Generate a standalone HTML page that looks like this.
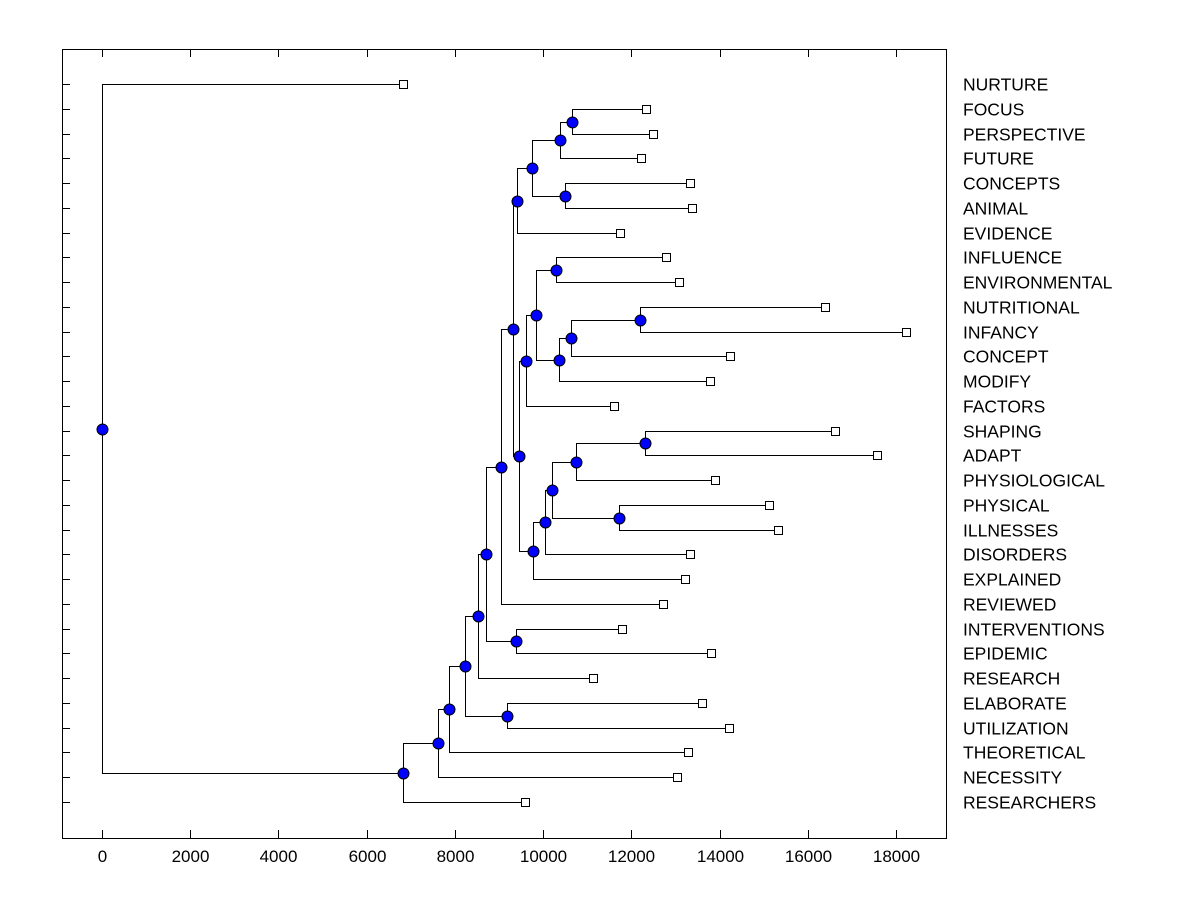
<!DOCTYPE html>
<html><head><meta charset="utf-8"><style>
body{margin:0;background:#fff}
svg{display:block;font-family:"Liberation Sans",Arial,sans-serif}
</style></head><body>
<svg id="chart" width="1200" height="900" viewBox="0 0 1200 900"></svg>
<script>
const leafNames=["NURTURE","FOCUS","PERSPECTIVE","FUTURE","CONCEPTS","ANIMAL","EVIDENCE","INFLUENCE","ENVIRONMENTAL","NUTRITIONAL","INFANCY","CONCEPT","MODIFY","FACTORS","SHAPING","ADAPT","PHYSIOLOGICAL","PHYSICAL","ILLNESSES","DISORDERS","EXPLAINED","REVIEWED","INTERVENTIONS","EPIDEMIC","RESEARCH","ELABORATE","UTILIZATION","THEORETICAL","NECESSITY","RESEARCHERS"];
const leafValues=[6825,12336,12494,12222,13333,13379,11746,12789,13084,16395,18231,14240,13787,11610,16621,17574,13900,15125,15329,13333,13220,12721,11791,13810,11134,13605,14218,13288,13039,9592];
// merges: [childA, childB, height]; child index <30 = leaf, >=30 = merge (index-30)
const mergeA=[1,30,4,31,33,7,9,36,37,35,39,14,41,17,42,44,45,40,34,48,22,49,51,25,52,54,55,56,0];
const mergeB=[2,3,5,32,6,8,10,11,12,38,13,15,16,18,43,19,20,46,47,21,23,50,24,26,53,27,28,29,57];
const mergeH=[10658,10385,10499,9751,9410,10295,12200,10635,10363,9841,9615,12313,10748,11723,10204,10045,9773,9456,9320,9048,9388,8707,8526,9184,8231,7868,7619,6825,0];
const xTicks=[0,2000,4000,6000,8000,10000,12000,14000,16000,18000];

const svg=document.getElementById('chart');
const NS='http://www.w3.org/2000/svg';
const L=62,R=946,T=49,B=838;
const xs=v=>Math.round(102+v*(896-102)/18000)+0.5;
const ys=i=>Math.round(84+i*(802-84)/29)+0.5;
function mk(tag,at){const e=document.createElementNS(NS,tag);for(const k in at)e.setAttribute(k,at[k]);svg.appendChild(e);return e;}

const frame=mk('rect',{x:L+0.5,y:T+0.5,width:R-L,height:B-T,fill:'none',stroke:'#000','stroke-width':1,'shape-rendering':'crispEdges'});



xTicks.forEach(t=>{
  const x=xs(t);
  const a=mk('line',{x1:x,y1:B,x2:x,y2:B-8,stroke:'#000','shape-rendering':'crispEdges'});
  
  
  const b=mk('line',{x1:x,y1:T,x2:x,y2:T+8,stroke:'#000','shape-rendering':'crispEdges'});
  
  
  const tx=mk('text',{x:x,y:B+24,'text-anchor':'middle','font-size':17});
  tx.textContent=t;
  
  
});

const pos=[];
leafNames.forEach((n,i)=>{pos[i]={x:xs(leafValues[i]),y:ys(i)};});
mergeA.forEach((a,k)=>{
  const pa=pos[a],pb=pos[mergeB[k]];
  pos[30+k]={x:xs(mergeH[k]),y:Math.round((pa.y+pb.y)/2-0.5)+0.5};
});
leafNames.forEach((n,i)=>{
  const t=mk('line',{x1:L,y1:ys(i),x2:L+8,y2:ys(i),stroke:'#000','shape-rendering':'crispEdges'});
  
  
});
mergeA.forEach((a,k)=>{
  const p=pos[30+k],pa=pos[a],pb=pos[mergeB[k]];
  const pl=mk('polyline',{points:`${pa.x},${pa.y} ${p.x},${pa.y} ${p.x},${pb.y} ${pb.x},${pb.y}`,fill:'none',stroke:'#000','stroke-width':1,'shape-rendering':'crispEdges'});
  
  
});
leafNames.forEach((n,i)=>{
  const p=pos[i];
  const r=mk('rect',{x:p.x-4,y:p.y-4,width:8,height:8,fill:'#fff',stroke:'#000','shape-rendering':'crispEdges'});
  
  
  const tx=mk('text',{x:963,y:p.y+6,'font-size':17.5});
  tx.textContent=n;
  
  
});
mergeA.forEach((a,k)=>{
  const p=pos[30+k];
  const c=mk('circle',{cx:p.x,cy:p.y,r:5.5,fill:'#0000ff',stroke:'#000','stroke-width':1});
  
  
});
</script>
</body></html>
